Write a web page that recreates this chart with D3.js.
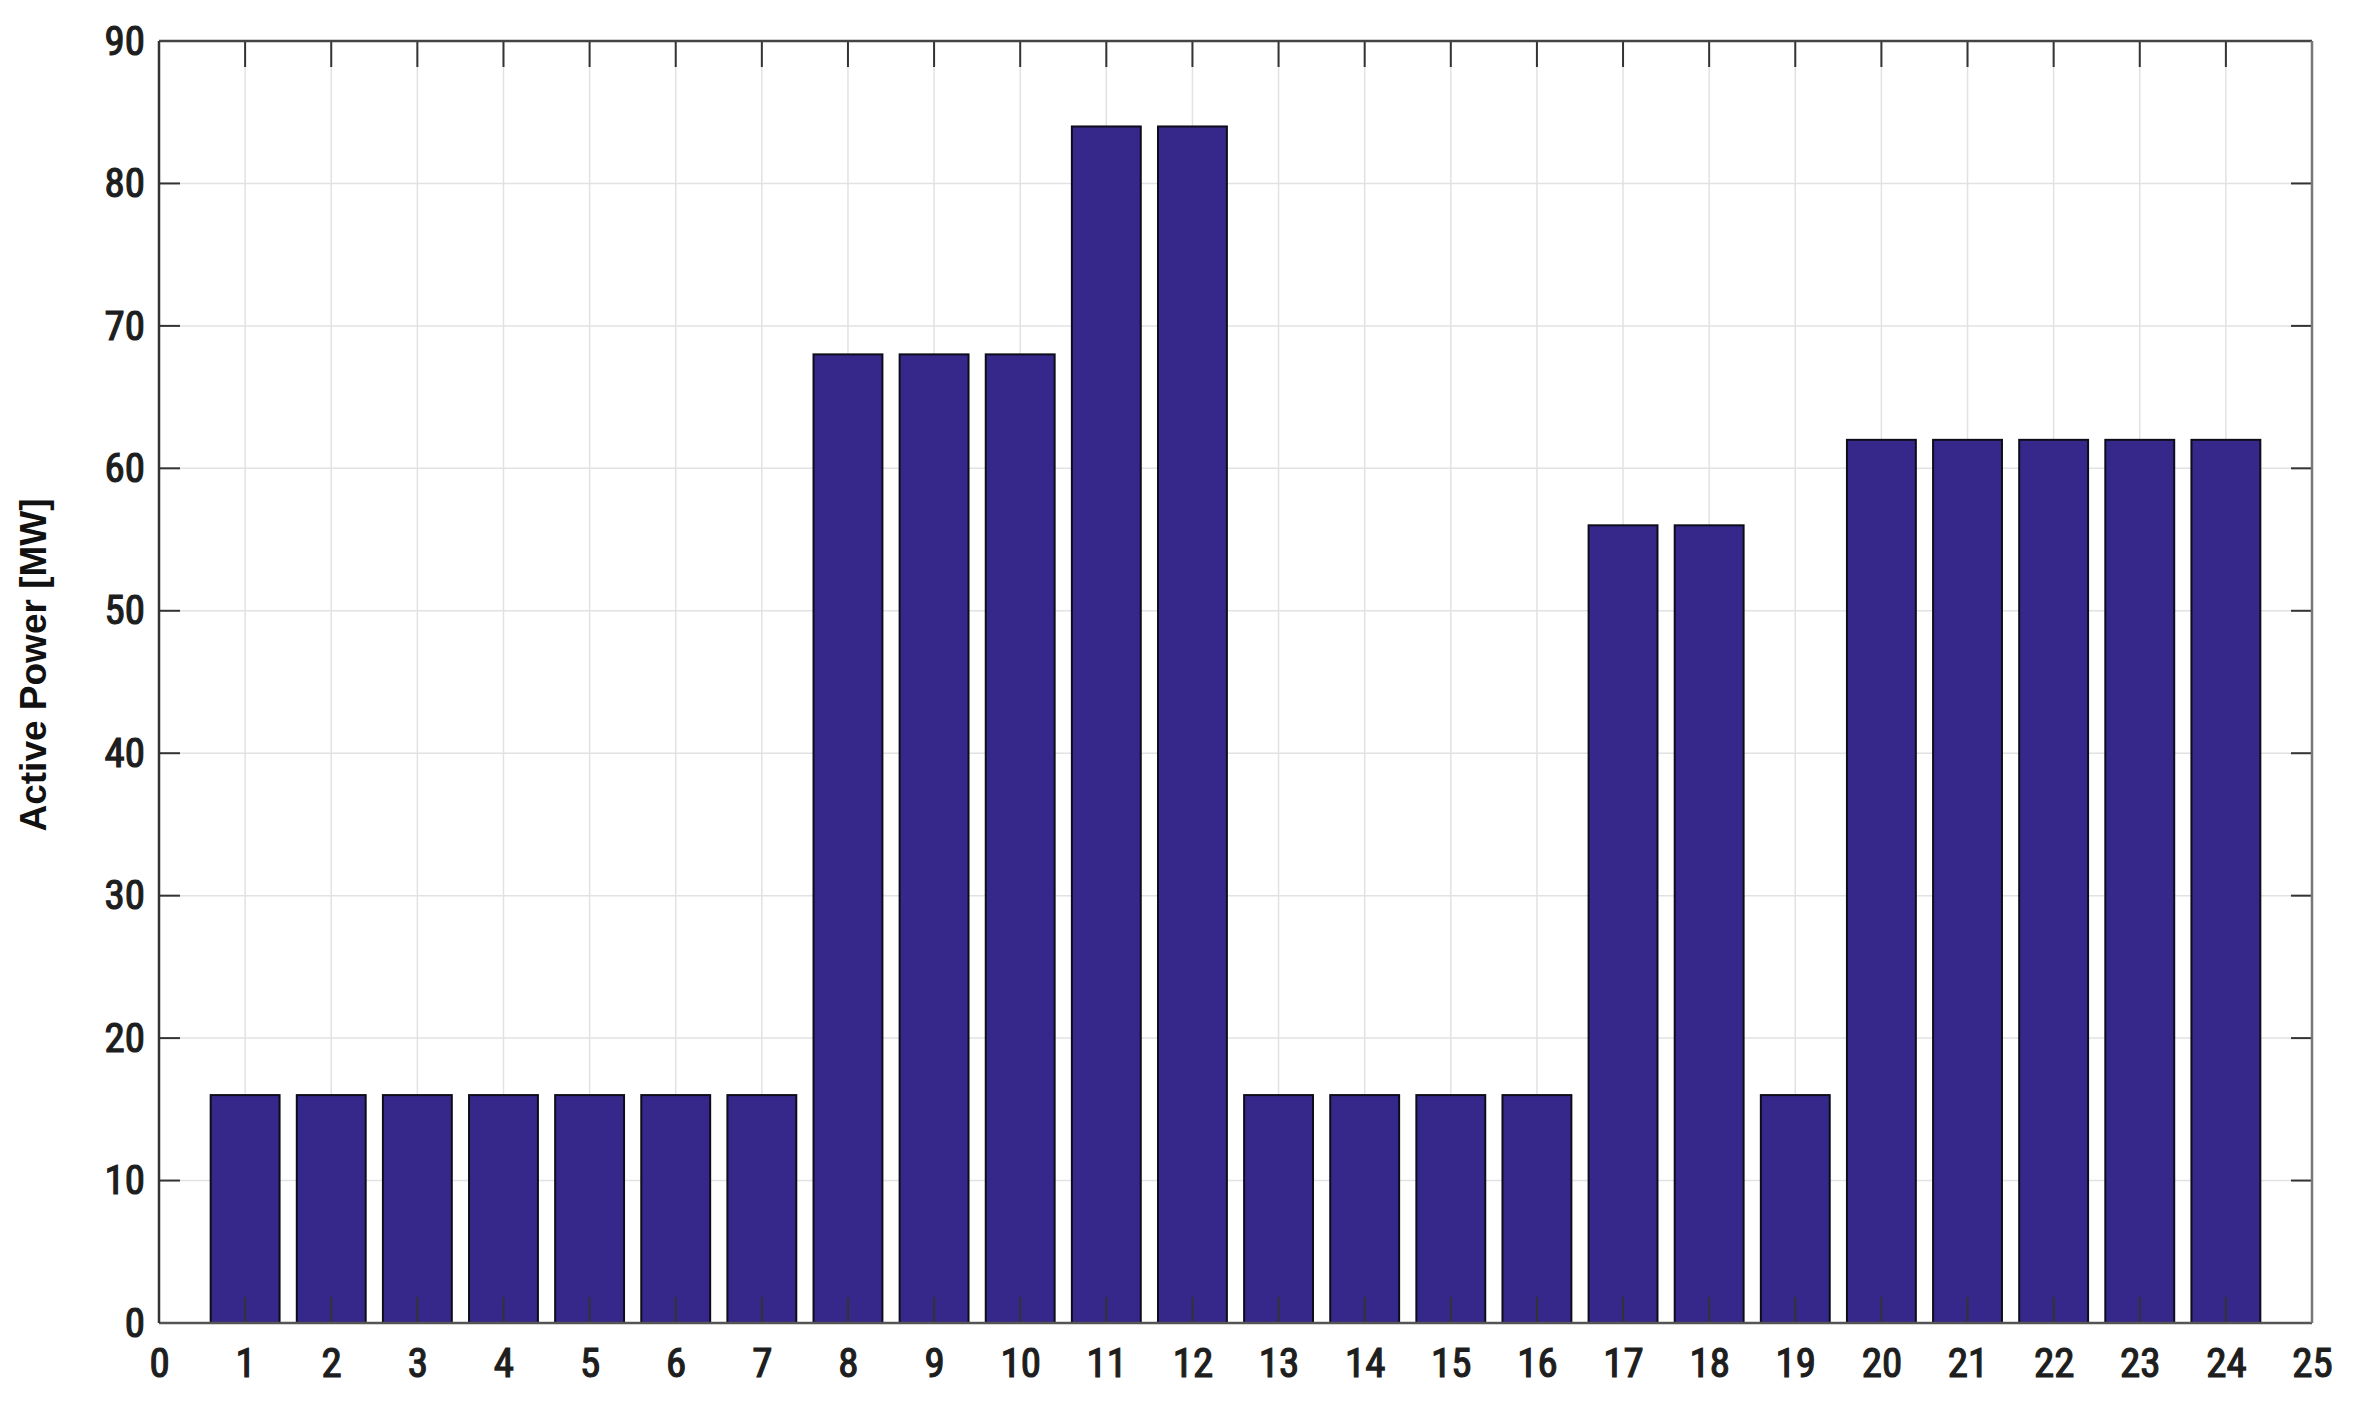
<!DOCTYPE html>
<html>
<head>
<meta charset="utf-8">
<script src="https://cdn.jsdelivr.net/npm/d3@7"></script>
<style>
html,body{margin:0;padding:0;background:#fff;}
svg{display:block;}
</style>
</head>
<body>
<svg id="chart" width="2358" height="1405"></svg>
<script>
const hours = [1,2,3,4,5,6,7,8,9,10,11,12,13,14,15,16,17,18,19,20,21,22,23,24];
const power = [16,16,16,16,16,16,16,68,68,68,84,84,16,16,16,16,56,56,16,62,62,62,62,62];
const xTicks = d3.range(0,26);
const yTicks = [0,10,20,30,40,50,60,70,80,90];
const yLabel = "Active Power [MW]";

const svg = d3.select("#chart");
const m = {left:159, right:2312, top:41, bottom:1323};
const x = d3.scaleLinear().domain([0,25]).range([m.left,m.right]);
const y = d3.scaleLinear().domain([0,90]).range([m.bottom,m.top]);
const font = "'Liberation Sans Narrow','Roboto Condensed','Liberation Sans',Arial,sans-serif";

// grid
const g = svg.append("g");
g.selectAll("line.gx").data(xTicks.slice(1,-1)).join("line")
  .attr("x1",d=>x(d)).attr("x2",d=>x(d)).attr("y1",m.top).attr("y2",m.bottom)
  .attr("stroke","#e2e2e2").attr("stroke-width",1.5);
g.selectAll("line.gy").data(yTicks.slice(1,-1)).join("line")
  .attr("y1",d=>y(d)).attr("y2",d=>y(d)).attr("x1",m.left).attr("x2",m.right)
  .attr("stroke","#e2e2e2").attr("stroke-width",1.5);

// bars
const bw = 0.8;
svg.append("g").selectAll("rect").data(hours).join("rect")
  .attr("x",(d)=>x(d-bw/2))
  .attr("width",(d)=>x(d+bw/2)-x(d-bw/2))
  .attr("y",(d,i)=>y(power[i]))
  .attr("height",(d,i)=>y(0)-y(power[i]))
  .attr("fill","#35288a").attr("stroke","#0d0d1a").attr("stroke-width",2);

// axes with inward ticks
const xb = d3.axisBottom(x).tickValues(xTicks).tickSize(0).tickPadding(25).tickFormat(d3.format("d"));
const yl = d3.axisLeft(y).tickValues(yTicks).tickSize(0).tickPadding(14).tickFormat(d3.format("d"));
const gx = svg.append("g").attr("transform",`translate(0,${m.bottom})`).call(xb);
const gy = svg.append("g").attr("transform",`translate(${m.left},0)`).call(yl);
[gx,gy].forEach(a=>{
  a.select(".domain").remove();
  a.selectAll("text").attr("font-family",font).attr("font-size",41).attr("font-weight","normal")
    .attr("fill","#1e1e1e").attr("stroke","#1e1e1e").attr("stroke-width",1.2);
});

// tick marks inside
const tk = svg.append("g").attr("stroke","#333").attr("stroke-width",2);
tk.selectAll("line.tt").data(xTicks).join("line")
  .attr("x1",d=>x(d)).attr("x2",d=>x(d)).attr("y1",m.top).attr("y2",m.top+26);
tk.selectAll("line.tb").data(xTicks).join("line")
  .attr("x1",d=>x(d)).attr("x2",d=>x(d)).attr("y1",m.bottom).attr("y2",m.bottom-26);
tk.selectAll("line.tl").data(yTicks).join("line")
  .attr("y1",d=>y(d)).attr("y2",d=>y(d)).attr("x1",m.left).attr("x2",m.left+21);
tk.selectAll("line.tr").data(yTicks).join("line")
  .attr("y1",d=>y(d)).attr("y2",d=>y(d)).attr("x1",m.right).attr("x2",m.right-21);

// box
svg.append("line").attr("x1",m.left).attr("x2",m.right).attr("y1",m.top).attr("y2",m.top).attr("stroke","#444").attr("stroke-width",2.5);
svg.append("line").attr("x1",m.left).attr("x2",m.right).attr("y1",m.bottom).attr("y2",m.bottom).attr("stroke","#555").attr("stroke-width",2.5);
svg.append("line").attr("x1",m.left).attr("x2",m.left).attr("y1",m.top).attr("y2",m.bottom).attr("stroke","#333").attr("stroke-width",2.5);
svg.append("line").attr("x1",m.right).attr("x2",m.right).attr("y1",m.top).attr("y2",m.bottom).attr("stroke","#777").attr("stroke-width",2.5);

// y label
svg.append("text").attr("transform",`translate(46,665) rotate(-90)`)
  .attr("text-anchor","middle").attr("font-family","'Liberation Sans',Arial,sans-serif")
  .attr("font-size",37).attr("font-weight","bold").attr("fill","#111").text(yLabel);
</script>
</body>
</html>
